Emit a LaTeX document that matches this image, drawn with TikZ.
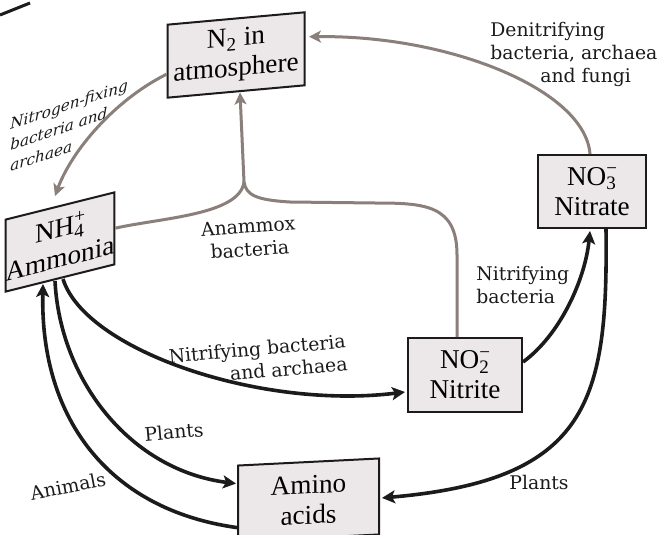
\documentclass[tikz,border=0pt]{standalone}
\usepackage{fontspec}
\setmainfont{Liberation Serif}
\newfontfamily\labelfont{DejaVu Serif}
\usetikzlibrary{arrows.meta,calc}
\definecolor{boxfill}{RGB}{236,232,233}
\definecolor{grayarrow}{RGB}{138,127,122}
\definecolor{inkblack}{RGB}{28,26,26}
\tikzset{
  box/.style={draw=inkblack, line width=1pt, fill=boxfill, inner sep=0pt, align=center,
    font=\fontsize{13.6}{15}\selectfont},
  lbl/.style={inner sep=0pt, text=inkblack, font=\labelfont\fontsize{9.4}{11.5}\selectfont},
  garrow/.style={draw=grayarrow, line width=1.5pt, -{Stealth[length=6pt,width=6pt,inset=1.5pt]}},
  gline/.style={draw=grayarrow, line width=1.5pt},
  barrow/.style={draw=inkblack, line width=1.8pt, -{Stealth[length=6.5pt,width=6.5pt,inset=1.5pt]}},
}
\begin{document}
\begin{tikzpicture}[x=0.5pt,y=-0.5pt]
\useasboundingbox (0,0) rectangle (662,534);
\fill[white] (0,0) rectangle (662,534);
\draw[inkblack, line width=1.5pt] (0,15) -- (30,3);

% boxes
\node[box, minimum width=68.5pt, minimum height=36.5pt, yslant=0.09] (n2) at (236,55)
  {N\textsubscript{2} in\\atmosphere};
\node[box, minimum width=44pt, minimum height=36pt, yslant=0.25] (nh4) at (60,242)
  {NH\rlap{\textsuperscript{+}}\textsubscript{4}\\Ammonia};
\node[box, minimum width=54pt, minimum height=36.5pt] (no3) at (592,191.5)
  {NO\rlap{\textsuperscript{\textminus}}\textsubscript{3}\\Nitrate};
\node[box, minimum width=57pt, minimum height=37pt] (no2) at (465,375)
  {NO\rlap{\textsuperscript{\textminus}}\textsubscript{2}\\Nitrite};
\node[box, minimum width=70.5pt, minimum height=38pt, yslant=0.05] (amino) at (308.5,500)
  {Amino\\acids};

% labels
\node[lbl, align=left, anchor=west] (deni) at (490,54)
  {Denitrifying\\bacteria, archaea\\\hspace*{25pt}and fungi};
\node[lbl, align=left, anchor=west, yslant=0.33, font=\labelfont\itshape\fontsize{7.6}{10.5}\selectfont] (nfix) at (10,145)
  {Nitrogen-fixing\\bacteria and\\archaea};
\node[lbl, align=center, rotate=4] (anam) at (249,238) {Anammox\\bacteria};
\node[lbl, align=right, rotate=5] (nitba) at (258,360) {Nitrifying bacteria\\and archaea};
\node[lbl, align=left, anchor=west] (nitb) at (476,285) {Nitrifying\\bacteria};
\node[lbl] (plr) at (539,482) {Plants};
\node[lbl, rotate=5] (pll) at (174,432) {Plants};
\node[lbl, rotate=11] (anim) at (68,486) {Animals};

% gray connectors
\draw[garrow] ($(no3.north)+(-2,0)$) .. controls (585,90) and (450,35) .. ($(n2.east)+(3.5,-12)$);
\draw[garrow] ($(n2.west)+(0,13)$) .. controls (115,100) and (72,150) .. ($(nh4.north)+(-5,-9)$);
\coordinate (peak) at (244,182);
\draw[gline] (nh4.east) .. controls (160,218) and (240,215) .. (peak);
\draw[gline] ($(no2.north)+(-8,0)$) -- (457,255) .. controls (457,205) and (425,203) .. (375,203)
  -- (290,202) .. controls (256,200) and (246,195) .. (peak);
\draw[garrow] (peak) -- ($(n2.south)+(4,0)$);

% black connectors
\draw[barrow] ($(nh4.south)+(3,0)$) .. controls (85,350) and (260,410) .. ($(no2.west)+(-2,17)$);
\draw[barrow] ($(no2.east)+(0,-13)$) .. controls (560,335) and (585,280) .. ($(no3.south)+(-2,2)$);
\draw[barrow] ($(no3.south)+(14,0)$) .. controls (608,400) and (590,480) .. ($(amino.east)+(2,1.5)$);
\draw[barrow] ($(nh4.south)+(-5,2)$) .. controls (60,380) and (130,470) .. ($(amino.west)+(-1,-20)$);
\draw[barrow] ($(amino.west)+(0,24)$) .. controls (110,510) and (40,420) .. ($(nh4.south)+(-17,5)$);
\end{tikzpicture}
\end{document}
